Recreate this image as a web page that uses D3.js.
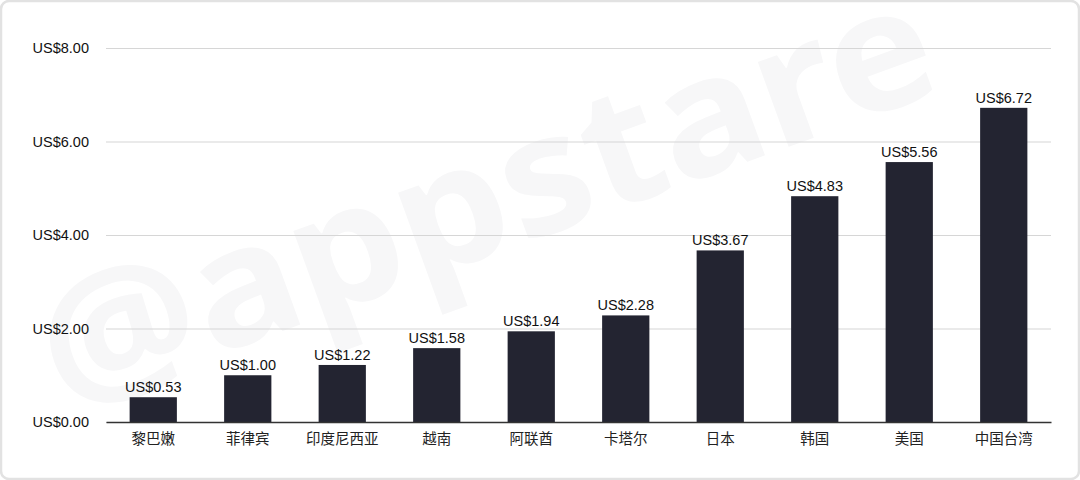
<!DOCTYPE html>
<html>
<head>
<meta charset="utf-8">
<script src="https://cdn.jsdelivr.net/npm/d3@7/dist/d3.min.js"></script>
<style>
  html, body { margin: 0; padding: 0; background: #fff; }
  svg { display: block; }
</style>
</head>
<body>
<svg id="chart" width="1080" height="480"></svg>
<script>
const categories = ["黎巴嫩", "菲律宾", "印度尼西亚", "越南", "阿联酋", "卡塔尔", "日本", "韩国", "美国", "中国台湾"];
const values = [0.53, 1.00, 1.22, 1.58, 1.94, 2.28, 3.67, 4.83, 5.56, 6.72];
const yTicks = [0, 2, 4, 6, 8];

const svg = d3.select("#chart");
const W = 1080, H = 480;
const m = { left: 106, right: 1051, top: 48, bottom: 422 };
const latin = "'Liberation Sans', Arial, Helvetica, sans-serif";
const cjk = "'Noto Sans CJK SC', 'Liberation Sans', sans-serif";

// outer frame
svg.append("rect").attr("x", 1).attr("y", 1).attr("width", W - 2).attr("height", H - 2)
  .attr("rx", 8).attr("fill", "#fff").attr("stroke", "#e2e2e2").attr("stroke-width", 2.5);

// watermark
svg.append("text")
  .attr("transform", "translate(505,250) rotate(-20)")
  .attr("text-anchor", "middle")
  .attr("font-family", "'Noto Sans', 'Liberation Sans', sans-serif")
  .attr("font-weight", "bold")
  .attr("font-size", 165)
  .attr("textLength", 940)
  .attr("lengthAdjust", "spacingAndGlyphs")
  .attr("fill", "#f7f7f8")
  .text("@appstare");

const x = d3.scaleBand().domain(categories).range([m.left, m.right]).paddingInner(0.5).paddingOuter(0.25);
const y = d3.scaleLinear().domain([0, 8]).range([m.bottom, m.top]);

// gridlines
const yAxis = d3.axisLeft(y).tickValues(yTicks).tickSize(-(m.right - m.left)).tickPadding(17)
  .tickFormat(d => "US$" + d3.format(".2f")(d));
const gy = svg.append("g").attr("transform", `translate(${m.left},0)`).call(yAxis);
gy.select(".domain").remove();
gy.selectAll(".tick line").attr("stroke", "#d6d6d6").attr("stroke-width", 1.2);
gy.selectAll(".tick text").attr("font-family", latin).attr("font-size", 14.5).attr("fill", "#111");

// bars
svg.append("g").selectAll("rect").data(values).join("rect")
  .attr("x", (d, i) => x(categories[i]))
  .attr("width", x.bandwidth())
  .attr("y", d => y(d))
  .attr("height", d => y(0) - y(d))
  .attr("fill", "#232431");

// value labels
svg.append("g").selectAll("text").data(values).join("text")
  .attr("x", (d, i) => x(categories[i]) + x.bandwidth() / 2)
  .attr("y", d => y(d) - 5)
  .attr("text-anchor", "middle")
  .attr("font-family", latin).attr("font-size", 14.5).attr("fill", "#111")
  .text(d => "US$" + d3.format(".2f")(d));

// baseline + x axis
const xAxis = d3.axisBottom(x).tickSize(0).tickPadding(12);
const gx = svg.append("g").attr("transform", `translate(0,${m.bottom})`).call(xAxis);
gx.select(".domain").attr("stroke", "#333").attr("stroke-width", 1.5);
gx.selectAll(".tick text").attr("font-family", cjk).attr("font-size", 14.5).attr("fill", "#222");
</script>
</body>
</html>
